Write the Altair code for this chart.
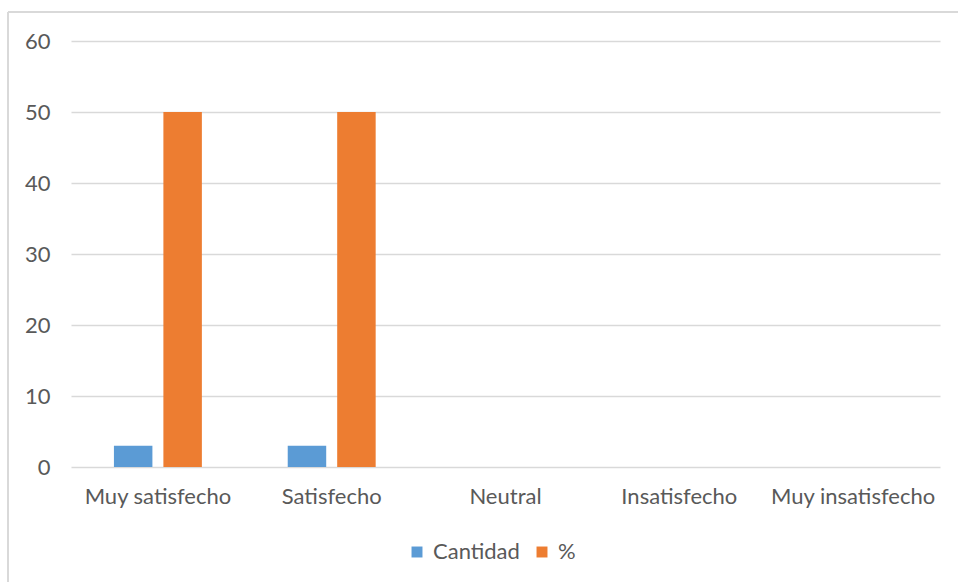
import altair as alt
import pandas as pd

categories = ["Muy satisfecho", "Satisfecho", "Neutral", "Insatisfecho", "Muy insatisfecho"]
cantidad = [3, 3, 0, 0, 0]
porcentaje = [50, 50, 0, 0, 0]
series = ["Cantidad", "%"]
colors = ["#5B9BD5", "#ED7D31"]
y_ticks = [0, 10, 20, 30, 40, 50, 60]

rows = []
for c, a, p in zip(categories, cantidad, porcentaje):
    rows.append({"cat": c, "serie": series[0], "valor": a})
    rows.append({"cat": c, "serie": series[1], "valor": p})
df = pd.DataFrame(rows)

FONT = "Lato"
FS = 22
W, H = 869, 426

bars = alt.Chart(df).mark_bar().encode(
    x=alt.X("cat:N", sort=categories, title=None,
            scale=alt.Scale(paddingInner=0.494, paddingOuter=0.247),
            axis=alt.Axis(labelAngle=0, domain=False, ticks=False, labelPadding=19,
                          labelFontSize=FS, labelColor="#595959", labelFont=FONT)),
    xOffset=alt.XOffset("serie:N", sort=series,
                        scale=alt.Scale(paddingInner=0.222, paddingOuter=0)),
    y=alt.Y("valor:Q", title=None,
            scale=alt.Scale(domain=[0, 60], nice=False),
            axis=alt.Axis(values=y_ticks, domain=False, ticks=False, labelPadding=21,
                          gridColor="#D9D9D9", gridWidth=1.3,
                          labelFontSize=FS, labelColor="#595959", labelFont=FONT)),
    color=alt.Color("serie:N", sort=series,
                    scale=alt.Scale(domain=series, range=colors),
                    legend=alt.Legend(title=None, orient="none", direction="horizontal",
                                      legendX=335, legendY=500,
                                      symbolType="square", symbolSize=120,
                                      symbolStrokeWidth=0,
                                      labelFontSize=FS, labelColor="#595959", labelFont=FONT,
                                      columnPadding=11, labelOffset=5)),
)

left_border = alt.Chart(df).mark_rule(color="#D9D9D9", strokeWidth=1.5).encode(
    x=alt.value(-63), y=alt.value(-29), y2=alt.value(582 - 41)
)
top_border = alt.Chart(df).mark_rule(color="#D9D9D9", strokeWidth=1.5).encode(
    x=alt.value(-63), x2=alt.value(958 - 71), y=alt.value(-29)
)

chart = alt.layer(bars, left_border, top_border).properties(
    width=W, height=H,
    padding={"left": 71, "top": 41, "right": 18, "bottom": 115},
    autosize=alt.AutoSizeParams(type="none"),
    background="white",
).configure_view(stroke=None)

chart.save("out.html", embed_options={"renderer": "svg", "actions": False})
